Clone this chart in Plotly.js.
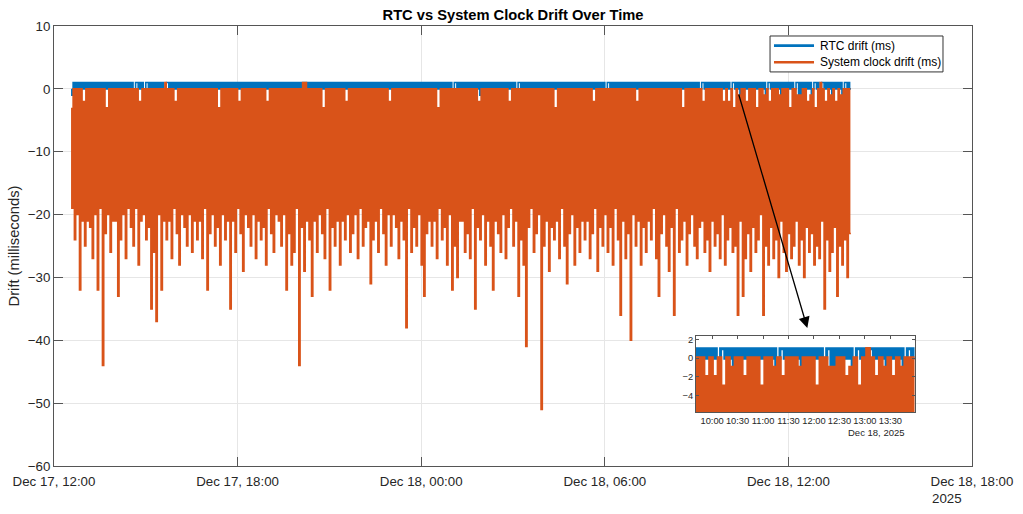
<!DOCTYPE html>
<html><head><meta charset="utf-8">
<script src="https://cdn.plot.ly/plotly-3.0.1.min.js"></script>
<style>html,body{margin:0;padding:0;background:#fff;} #chart{width:1023px;height:514px;}</style>
</head><body><div id="chart"></div>
<script>
// sampling of both logged series (start time and interval between samples)
const sampleStart = '2025-12-17 12:35:00';
const sampleStepMs = 150000; // 2.5 minutes

// RTC drift (ms)
const rtcDrift = [
0,-1, 1,0, 1,0, 1,0, 1,0, 1,0, 1,0, 1,0, 1,0, 1,-1,
1,0, 1,0, 1,0, 1,0, 1,0, 1,0, 1,0, 1,0, 1,-1, 1,0,
1,0, 1,0, 1,0, 1,-1, 1,0, 0,1, 1,0, 1,0, 1,0, 0,1,
1,0, 1,0, 1,0, 1,-1, 1,0, 1,0, 1,0, 0,1, 1,0, 1,0,
1,0, 1,0, 1,0, 1,0, 1,-1, 1,0, 1,0, 1,0, 1,0, 1,-1,
1,0, 1,0, 1,0, 1,0, 1,0, 1,-1, 1,0, 1,0, 1,0, 1,0,
1,0, 1,-1, 1,0, 1,0, 1,0, 1,0, 1,0, 1,0, 1,-1, 1,0,
1,0, 1,0, 1,0, 1,0, 1,-1, 1,0, 1,0, 1,0, 1,0, 1,0,
1,0, 1,0, 1,0, 1,0, 1,-1, 1,0, 1,0, 1,0, 1,0, 1,0,
1,-1, 1,0, 1,0, 1,0, 1,0, 1,0, 1,0, 1,-1, 1,0, 1,0,
1,0, 1,0, 1,-1, 1,0, 1,0, 1,0, 1,0, 1,0, 1,0, 1,0,
1,0, 1,0, 1,0, 1,0, 1,0, 1,0, 1,0, 1,0, 1,0, 1,0,
1,-1, 1,0, 1,0, 1,0, 1,0, 1,0, 1,0, 1,0, 1,0, 1,0,
1,0, 1,0, 1,0, 1,0, 1,0, 1,0, 1,0, 1,0, 1,0, 1,0,
1,-1, 1,0, 1,0, 1,0, 1,0, 1,0, 1,0, 1,0, 1,0, 1,0,
0,1, 1,0, 1,0, 1,0, 1,0, 1,0, 1,0, 1,0, 1,0, 1,0,
1,-1, 1,0, 1,0, 1,0, 1,0, 1,0, 1,0, 1,0, 1,0, 1,0,
1,0, 1,0, 1,0, 1,0, 1,0, 0,1, 1,0, 1,0, 1,0, 1,0,
1,0, 1,0, 1,0, 1,0, 1,0, 1,-1, 1,0, 1,0, 1,0, 1,0,
1,0, 1,0, 1,0, 1,0, 1,0, 1,0, 1,0, 1,0, 1,0, 1,0,
1,-1, 1,0, 1,0, 1,0, 1,0, 1,0, 1,0, 1,0, 1,0, 1,0,
0,1, 1,0, 1,0, 1,0, 1,0, 1,-1, 1,0, 1,0, 1,0, 1,0,
1,0, 1,0, 1,0, 1,0, 1,0, 1,0, 1,0, 1,0, 1,0, 1,0,
1,-1, 1,0, 1,0, 1,0, 1,0, 1,0, 1,0, 1,0, 1,0, 1,0,
1,0, 1,0, 1,0, 1,0, 1,0, 1,0, 1,0, 0,1, 1,0, 1,0,
1,0, 1,0, 1,0, 1,0, 1,0, 1,0, 1,0, 1,0, 1,0, 0,1,
1,0, 1,0, 1,-1, 1,0, 1,0, 1,0, 1,-1, 1,0, 1,0, 1,0,
1,0, 1,0, 1,-1, 0,1, 1,0, 1,0, 1,0, 1,0, 1,-1, 1,0,
1,0, 1,0, 1,0, 1,0, 0,1, 1,-1, 1,-1, 1,-1, 1,0, 1,0,
1,-1, 0,1, 1,0, 1,0, 0,1, 1,0, 1,0, 1,0, 1,-1, 1,0,
1,0, 1,0, 1,-1, 0,1, 1,0, 1,0
];

// System clock drift (ms)
const sysDrift = [
-3,-19, 0,-24, 0,-20, 0,-32, 0,-21, -2,-25, 0,-21, 0,-22, 0,-27, 0,-20,
0,-32, 0,-19, 0,-44, 0,-23, -3,-20, 0,-26, 0,-21, 0,-21, 0,-33, 0,-24,
0,-20, 0,-27, 0,-19, 0,-22, 0,-25, 0,-19, 0,-28, -2,-21, 0,-20, 0,-24,
0,-22, 0,-35, 0,-26, 0,-37, 0,-20, 0,-32, 0,-21, 1,-24, 0,-21, 0,-27,
0,-19, -2,-23, 0,-28, 0,-20, 0,-22, 0,-25, 0,-20, 0,-26, 0,-21, 0,-24,
0,-21, 0,-27, 0,-19, 0,-32, 0,-23, 0,-20, 0,-25, 0,-22, -3,-28, 0,-20,
0,-24, 0,-21, 0,-35, 0,-21, 0,-26, 0,-19, -2,-23, 0,-29, 0,-20, 0,-22,
0,-25, 0,-20, 0,-27, 0,-21, 0,-24, 0,-22, 0,-28, -2,-19, 0,-23, 0,-26,
0,-20, 0,-21, 0,-25, 0,-20, 0,-32, 0,-23, 0,-28, 0,-26, 0,-19, 0,-44,
0,-22, 1,-29, 1,-21, 0,-24, 0,-33, 0,-21, 0,-26, 0,-20, 0,-23, -3,-27,
0,-19, 0,-32, 0,-22, 0,-25, 0,-21, 0,-28, 0,-21, 0,-24, -2,-20, 0,-26,
0,-23, 0,-20, 0,-27, 0,-19, 0,-25, 0,-22, 0,-21, 0,-31, 0,-24, 0,-21,
0,-26, 0,-19, 0,-23, 0,-28, 0,-20, -2,-25, 0,-20, 0,-22, 0,-27, 0,-21,
0,-24, 0,-38, 0,-19, 0,-26, 0,-22, 0,-25, 0,-20, 0,-28, 0,-33, 0,-23,
0,-21, 0,-25, 0,-21, 0,-27, -3,-19, 0,-24, 0,-22, 0,-28, 0,-20, 0,-32,
0,-25, 0,-30, 0,-21, 0,-21, 0,-26, 0,-23, 0,-27, 0,-19, 0,-35, 0,-22,
-2,-24, 0,-20, 0,-28, 0,-21, 0,-25, 0,-32, 0,-21, 0,-23, 0,-26, 0,-20,
0,-27, 0,-22, -2,-19, 0,-25, 0,-21, 0,-33, 0,-24, 0,-28, 0,-41, 0,-22,
0,-19, 0,-26, 0,-23, 0,-20, 0,-51, 0,-25, 0,-21, 0,-29, 0,-22, 0,-24,
-3,-21, 0,-27, 0,-19, 0,-25, 0,-31, 0,-23, 0,-20, 0,-28, 0,-22, 0,-26,
0,-21, 0,-24, 0,-21, 0,-27, 0,-23, -2,-19, 0,-29, 0,-22, 0,-25, 0,-20,
0,-26, 0,-22, 0,-28, 0,-19, 0,-24, 0,-36, 0,-21, 0,-27, 0,-23, 0,-40,
0,-20, 0,-25, -2,-21, 0,-28, 0,-22, 0,-26, 0,-21, 0,-24, 0,-19, 0,-27,
0,-33, 0,-23, 0,-20, 0,-25, 0,-29, 0,-22, 0,-36, 0,-19, 0,-26, 0,-24,
-3,-21, 0,-28, 0,-23, 0,-20, 0,-25, 0,-27, 0,-22, 0,-21, -2,-26, 0,-24,
0,-29, 0,-21, 0,-25, 0,-23, 0,-27, 0,-20, -2,-28, 0,-24, -2,-22, 0,-26,
-3,-25, 0,-36, -1,-21, 0,-33, 0,-27, -2,-23, 0,-29, 0,-22, 0,-26, -3,-24,
0,-20, 0,-36, -1,-25, 0,-28, -2,-22, 0,-27, 0,-24, 0,-30, -1,-21, 0,-26,
0,-29, 0,-23, -3,-27, 0,-25, 0,-21, -1,-28, -1,-24, 0,-30, 0,-22, -2,-26,
-1,-23, 0,-28, -3,-25, 0,-27, 1,-21, 0,-35, -2,-24, 0,-29, -1,-26, 0,-22,
-2,-33, 0,-25, -1,-28, 0,-24, 0,-30, 0,-23
];

// series names
const seriesNames = ['RTC drift (ms)', 'System clock drift (ms)'];

// axes
const mainXRange = ['2025-12-17 12:00:00', '2025-12-18 18:00:00'];
const mainTickVals = ['2025-12-17 12:00:00','2025-12-17 18:00:00','2025-12-18 00:00:00','2025-12-18 06:00:00','2025-12-18 12:00:00','2025-12-18 18:00:00'];
const mainTickText = ['Dec 17, 12:00','Dec 17, 18:00','Dec 18, 00:00','Dec 18, 06:00','Dec 18, 12:00','Dec 18, 18:00'];
const mainYTicks = [-60,-50,-40,-30,-20,-10,0,10];
const mainYRange = [-60, 10];
const insetXRange = ['2025-12-18 09:41:00', '2025-12-18 13:58:30'];
const insetTickVals = ['2025-12-18 10:00:00','2025-12-18 10:30:00','2025-12-18 11:00:00','2025-12-18 11:30:00','2025-12-18 12:00:00','2025-12-18 12:30:00','2025-12-18 13:00:00','2025-12-18 13:30:00'];
const insetTickText = ['10:00','10:30','11:00','11:30','12:00','12:30','13:00','13:30'];
const insetYTicks = [-4,-2,0,2];
const insetYRange = [-5.73, 2.4];

const FONT = '"Liberation Sans", Arial, Helvetica, sans-serif';
const BLUE = '#0072BD', ORANGE = '#D95319';
const axisCol = '#555555', textCol = '#262626', gridCol = '#e6e6e6';

function series(y, color, width, xa, ya, name) {
  return {type:'scatter', mode:'lines', name:name, x0:sampleStart, dx:sampleStepMs, y:y,
          line:{color:color, width:width, shape:'vh', simplify:false},
          xaxis:xa, yaxis:ya, showlegend:false, hoverinfo:'skip'};
}
const traces = [
  series(rtcDrift, BLUE, 1.6, 'x', 'y', seriesNames[0]),
  series(sysDrift, ORANGE, 1.6, 'x', 'y', seriesNames[1]),
  series(rtcDrift, BLUE, 3, 'x2', 'y2', seriesNames[0]),
  series(sysDrift, ORANGE, 3.6, 'x2', 'y2', seriesNames[1])
];

const commonAxis = {
  showline:true, linecolor:axisCol, linewidth:1, mirror:'ticks',
  ticks:'inside', tickcolor:axisCol, tickwidth:1, zeroline:false
};

// legend box (paper coordinates of the main plot area)
const LG = {x0:0.7800, x1:0.9684, y0:0.8956, y1:0.9773, lx0:0.7843, lx1:0.8279, tx:0.8322, r1:0.9553, r2:0.9176};

const layout = {
  width:1023, height:514,
  margin:{l:54, r:51, t:26, b:47.5, pad:0},
  paper_bgcolor:'#ffffff', plot_bgcolor:'#ffffff',
  font:{family:FONT, size:13.3, color:textCol},
  showlegend:false,
  hovermode:false,
  title:{text:'<b>RTC vs System Clock Drift Over Time</b>', font:{family:FONT, size:14.7, color:'#000'},
         x:0.5, xref:'paper', xanchor:'center', y:1-15/514, yref:'container', yanchor:'middle'},
  xaxis:Object.assign({}, commonAxis, {
    type:'date', range:mainXRange, tickmode:'array', tickvals:mainTickVals, ticktext:mainTickText,
    ticklen:9, showgrid:true, gridcolor:gridCol, gridwidth:1, tickfont:{size:13.3, color:textCol},
    ticklabelstandoff:3, anchor:'y', domain:[0,1]}),
  yaxis:Object.assign({}, commonAxis, {
    range:mainYRange, tickmode:'array', tickvals:mainYTicks, ticklen:9,
    showgrid:true, gridcolor:gridCol, gridwidth:1, tickfont:{size:13.3, color:textCol},
    anchor:'x', domain:[0,1],
    title:{text:'Drift (milliseconds)', font:{size:14.7, color:textCol}, standoff:4}}),
  xaxis2:Object.assign({}, commonAxis, {
    type:'date', range:insetXRange, tickmode:'array', tickvals:insetTickVals, ticktext:insetTickText,
    ticklen:3, showgrid:false, tickfont:{size:9.3, color:textCol}, anchor:'y2',
    domain:[0.6993, 0.9374], layer:'below traces'}),
  yaxis2:Object.assign({}, commonAxis, {
    range:insetYRange, tickmode:'array', tickvals:insetYTicks, ticklen:3, showgrid:false,
    tickfont:{size:9.3, color:textCol}, anchor:'x2', domain:[0.123, 0.2963]}),
  shapes:[
    {type:'rect', xref:'paper', yref:'paper', x0:LG.x0, x1:LG.x1, y0:LG.y0, y1:LG.y1,
     fillcolor:'#ffffff', line:{color:'#333333', width:1}, layer:'above'},
    {type:'line', xref:'paper', yref:'paper', x0:LG.lx0, x1:LG.lx1, y0:LG.r1, y1:LG.r1,
     line:{color:BLUE, width:2.6}, layer:'above'},
    {type:'line', xref:'paper', yref:'paper', x0:LG.lx0, x1:LG.lx1, y0:LG.r2, y1:LG.r2,
     line:{color:ORANGE, width:2.6}, layer:'above'}
  ],
  annotations:[
    {xref:'paper', yref:'paper', x:LG.tx, y:LG.r1, xanchor:'left', yanchor:'middle', showarrow:false,
     text:seriesNames[0], font:{family:FONT, size:12, color:'#000'}},
    {xref:'paper', yref:'paper', x:LG.tx, y:LG.r2, xanchor:'left', yanchor:'middle', showarrow:false,
     text:seriesNames[1], font:{family:FONT, size:12, color:'#000'}},
    {xref:'paper', yref:'paper', x:0.8206, y:0.3137, axref:'pixel', ayref:'pixel', ax:-69, ay:-235,
     text:'', showarrow:true, arrowhead:2, arrowsize:1.7, arrowwidth:1.3, arrowcolor:'#000', standoff:0},
    {xref:'paper', yref:'paper', x:0.9543, y:-0.0745, xanchor:'left', yanchor:'middle', showarrow:false,
     text:'2025', font:{family:FONT, size:13.3, color:textCol}},
    {xref:'paper', yref:'paper', x:0.8965, y:0.0754, xanchor:'center', yanchor:'middle', showarrow:false,
     text:'Dec 18, 2025', font:{family:FONT, size:9.5, color:textCol}}
  ]
};

Plotly.newPlot('chart', traces, layout, {staticPlot:true, displayModeBar:false});
</script>
</body></html>
